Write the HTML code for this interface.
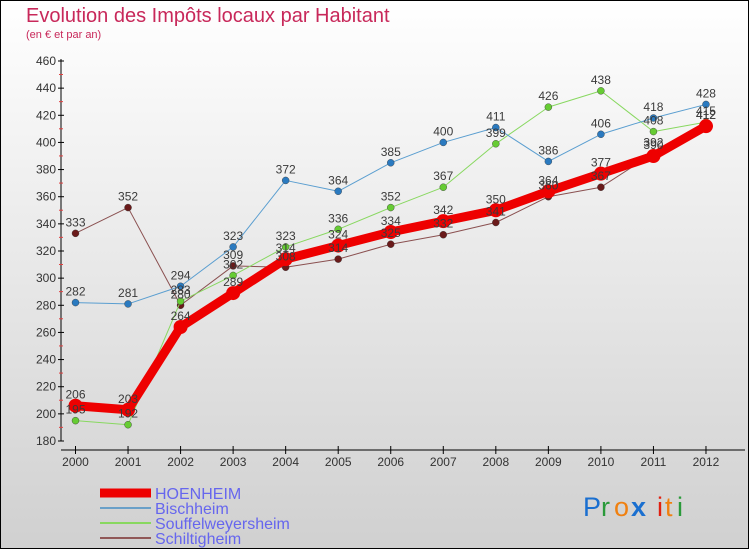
<!DOCTYPE html>
<html><head><meta charset="utf-8"><style>
body{margin:0;width:750px;height:550px;overflow:hidden}
svg{display:block;font-family:"Liberation Sans","DejaVu Sans",sans-serif}
</style></head><body>
<svg id="chart" width="750" height="550" viewBox="0 0 750 550">
<defs><linearGradient id="bg" x1="0" y1="0" x2="0" y2="1"><stop offset="0" stop-color="#ffffff"/><stop offset="1" stop-color="#d0d0d0"/></linearGradient></defs>
<rect x="0.5" y="0.5" width="748" height="548" fill="url(#bg)" stroke="#000"/>
<text x="26" y="22" font-size="20" fill="#c8285a">Evolution des Impôts locaux par Habitant</text>
<text x="26" y="38" font-size="11" fill="#c8285a">(en € et par an)</text>
<g id="axes"></g>
<g id="series"></g>
<g id="labels"></g>
<g id="legend"></g>
<g font-family="Liberation Sans, sans-serif" font-size="27">
<text x="583" y="516" fill="#1a6fd0">P</text><text x="601" y="516" fill="#2a9a3a">r</text><text x="614" y="516" fill="#f08010">o</text><text x="631" y="516" fill="#1a6fd0" font-weight="bold">x</text><text x="657" y="516" fill="#e02010">i</text><text x="665" y="516" fill="#f08010">t</text><text x="677" y="516" fill="#2a9a3a">i</text>
</g>
</svg>
<script>
const years=[2000,2001,2002,2003,2004,2005,2006,2007,2008,2009,2010,2011,2012];
const yTicks=[180,200,220,240,260,280,300,320,340,360,380,400,420,440,460];
const hoenheim=[206,203,264,289,314,324,334,342,350,364,377,390,412];
const bischheim=[282,281,294,323,372,364,385,400,411,386,406,418,428];
const souffel=[195,192,283,302,323,336,352,367,399,426,438,408,415];
const schilt=[333,352,280,309,308,314,325,332,341,360,367,392,412];
const NS='http://www.w3.org/2000/svg';
const xs=i=>75.5+i*52.54;
const ys=v=>441-(v-180)*(380/280);
function mk(t,a,p){const e=document.createElementNS(NS,t);for(const k in a)e.setAttribute(k,a[k]);p.appendChild(e);return e;}
const ax=document.getElementById('axes');
const yl=mk('line',{x1:61,y1:59,x2:61,y2:441,stroke:'#000'},ax);

yTicks.forEach(v=>{
 const g=mk('g',{},ax);
 
 mk('line',{x1:58,x2:64,y1:ys(v),y2:ys(v),stroke:'#000'},g);
 if(v>180) mk('line',{x1:59,x2:63,y1:ys(v)+13.5,y2:ys(v)+13.5,stroke:'#e04040'},g);
 const t=mk('text',{x:56,y:ys(v)+4,'font-size':12,'text-anchor':'end',fill:'#333'},g);t.textContent=v;
});
const xl=mk('line',{x1:61,y1:450,x2:745,y2:450,stroke:'#000'},ax);

years.forEach((y,i)=>{
 const g=mk('g',{},ax);
 
 mk('line',{x1:xs(i),x2:xs(i),y1:446,y2:454,stroke:'#000'},g);
 const t=mk('text',{x:xs(i),y:466,'font-size':12,'text-anchor':'middle',fill:'#333'},g);t.textContent=y;
});
const S=[
 {n:'Schiltigheim',d:schilt,c:'#6a1a1a',lc:'#8a5050',w:1,r:3.5},
 {n:'Souffelweyersheim',d:souffel,c:'#66cc33',lc:'#88d860',w:1,r:3.5},
 {n:'Bischheim',d:bischheim,c:'#2a7ac0',lc:'#5a9ed0',w:1,r:3.5},
 {n:'HOENHEIM',d:hoenheim,c:'#ee0000',lc:'#ee0000',w:9,r:7}
];
const sg=document.getElementById('series'),lg=document.getElementById('labels');
S.forEach(s=>{
 const g=mk('g',{},sg);
 
 mk('polyline',{points:s.d.map((v,i)=>xs(i)+','+ys(v)).join(' '),fill:'none',stroke:s.lc,'stroke-width':s.w,'stroke-linejoin':'round'},g);
 s.d.forEach((v,i)=>{
  const c=mk('circle',{cx:xs(i),cy:ys(v),r:s.r,fill:s.c,stroke:s.w>1?'#ee0000':'#333','stroke-width':s.w>1?0:0.4},g);
  
  const t=mk('text',{x:xs(i),y:ys(v)-7,'font-size':12,'text-anchor':'middle',fill:'#3a3a3a'},lg);
  
  t.textContent=v;
 });
});
const L=[['HOENHEIM','#ee0000',9],['Bischheim','#6aa0c8',2],['Souffelweyersheim','#88d860',2],['Schiltigheim','#905858',2]];
const lgd=document.getElementById('legend');
L.forEach((l,i)=>{
 const g=mk('g',{},lgd);
 
 const y=493+i*15;
 mk('line',{x1:100,x2:151,y1:y,y2:y,stroke:l[1],'stroke-width':l[2]},g);
 const t=mk('text',{x:155,y:y+6,'font-size':16,fill:'#6666ee'},g);t.textContent=l[0];
});
</script>
</body></html>
